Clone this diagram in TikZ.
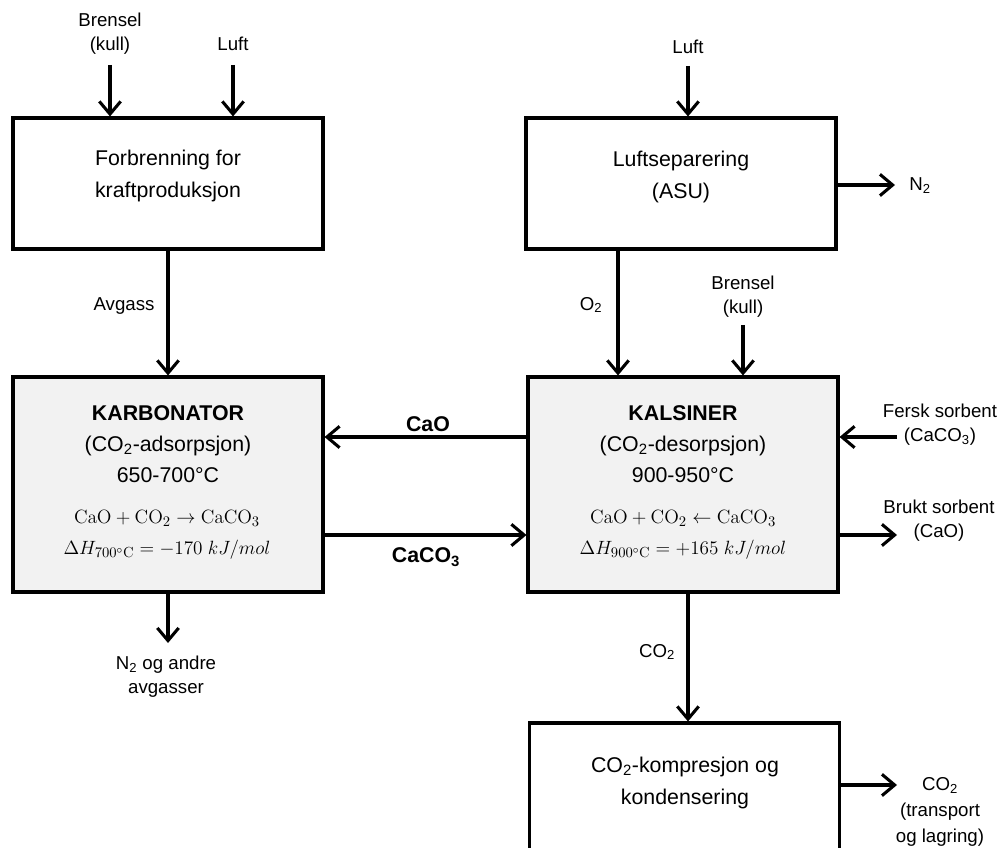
\documentclass[tikz,border=0pt]{standalone}
\usepackage[no-math]{fontspec}
\setmainfont{Liberation Sans}
\usetikzlibrary{arrows.meta}
\definecolor{boxgray}{HTML}{F2F2F2}
\newcommand{\dn}[1]{\textsubscript{#1}}
\begin{document}
\begin{tikzpicture}[x=0.75pt,y=-0.75pt,
  box/.style={draw, line width=2.3pt, inner sep=0, minimum width=232.5pt},
  reactor/.style={box, fill=boxgray, minimum height=161.25pt},
  flow/.style={line width=2.3pt, -{Straight Barb[length=9.5pt,width=16pt,line width=2.3pt]}},
  lbl/.style={font=\fontsize{14}{18}\selectfont, align=center, inner sep=0},
  txt/.style={font=\fontsize{16}{24}\selectfont, align=center, inner sep=0},
  ttl/.style={font=\fontsize{16}{23}\selectfont, align=center, inner sep=0},
  frm/.style={font=\fontsize{15.5}{19}\selectfont, align=center, inner sep=0},
  blbl/.style={font=\fontsize{16}{20}\selectfont\bfseries, inner sep=0},
]
\useasboundingbox (0,0) rectangle (1004,848);
\clip (0,0) rectangle (1004,848);

% boxes
\node[box, minimum height=98.25pt] (comb) at (168,183.5) {};
\node[box, minimum height=98.25pt] (asu) at (681,183.5) {};
\node[reactor] (karb) at (168,484.5) {};
\node[reactor] (kals) at (683,484.5) {};
\node[box, minimum height=120pt] (comp) at (684.5,803) {};

% box texts
\node[txt] (combt) at (168,176) {Forbrenning for\\kraftproduksjon};
\node[txt] (asut) at (681,177) {Luftseparering\\(ASU)};
\node[ttl] (karbt) at (168,444) {\textbf{KARBONATOR}\\(CO\dn{2}-adsorpsjon)\\650-700°C};
\node[frm] (karbf) at (167,535) {$\mathrm{CaO}+\mathrm{CO_2}\rightarrow\mathrm{CaCO_3}$\\[4pt]$\Delta H_{700^\circ\mathrm{C}}=-170\;kJ/mol$};
\node[ttl] (kalst) at (683,444) {\textbf{KALSINER}\\(CO\dn{2}-desorpsjon)\\900-950°C};
\node[frm] (kalsf) at (683,535) {$\mathrm{CaO}+\mathrm{CO_2}\leftarrow\mathrm{CaCO_3}$\\[4pt]$\Delta H_{900^\circ\mathrm{C}}=+165\;kJ/mol$};
\node[txt] (compt) at (685,783) {CO\dn{2}-kompresjon og\\kondensering};

% free-end coordinates
\coordinate (bk1) at (110,65);
\coordinate (lu1) at (233,65);
\coordinate (lu2) at (688,66);
\coordinate (n2) at (895,185);
\coordinate (o2) at (618,0);
\coordinate (bk2) at (743,325);
\coordinate (fs) at (897,437);
\coordinate (bs) at (897,535);
\coordinate (n2b) at (168,643);
\coordinate (co2d) at (688,0);
\coordinate (co2o) at (897,785);

% connectors
\draw[flow] (bk1) -- (bk1 |- comb.north);
\draw[flow] (lu1) -- (lu1 |- comb.north);
\draw[flow] (lu2) -- (lu2 |- asu.north);
\draw[flow] (asu.east |- n2) -- (n2);
\draw[flow] (asu.south -| o2) -- (kals.north -| o2);
\draw[flow] (bk2) -- (bk2 |- kals.north);
\draw[flow] (comb.south) -- (karb.north);
\draw[flow] (kals.west |- 0,437) -- (karb.east |- 0,437);
\draw[flow] (karb.east |- 0,535) -- (kals.west |- 0,535);
\draw[flow] (fs) -- (kals.east |- fs);
\draw[flow] (kals.east |- bs) -- (bs);
\draw[flow] (karb.south) -- (n2b);
\draw[flow] (kals.south -| co2d) -- (comp.north -| co2d);
\draw[flow] (comp.east |- co2o) -- (co2o);

% labels
\node[lbl] (lbk1) at (110,34) {Brensel\\(kull)};
\node[lbl] (llu1) at (233,44) {Luft};
\node[lbl] (llu2) at (688,47) {Luft};
\node[lbl, anchor=west] (ln2) at (909,186) {N\dn{2}};
\node[lbl] (lo2) at (591,305) {O\dn{2}};
\node[lbl] (lbk2) at (743,297) {Brensel\\(kull)};
\node[lbl] (lavg) at (124,306) {Avgass};
\node[blbl] (lcao) at (428,424) {CaO};
\node[blbl] (lcaco) at (426,557) {CaCO\dn{3}};
\node[lbl] (lfs) at (940,425) {Fersk sorbent\\(CaCO\dn{3})};
\node[lbl] (lbs) at (939,521) {Brukt sorbent\\(CaO)};
\node[lbl] (ln2b) at (166,677) {N\dn{2} og andre\\avgasser};
\node[lbl] (lco2) at (657,652) {CO\dn{2}};
\node[lbl, font=\fontsize{14}{19.5}\selectfont] (lco2o) at (940,812) {CO\dn{2}\\(transport\\og lagring)};
\end{tikzpicture}
\end{document}
